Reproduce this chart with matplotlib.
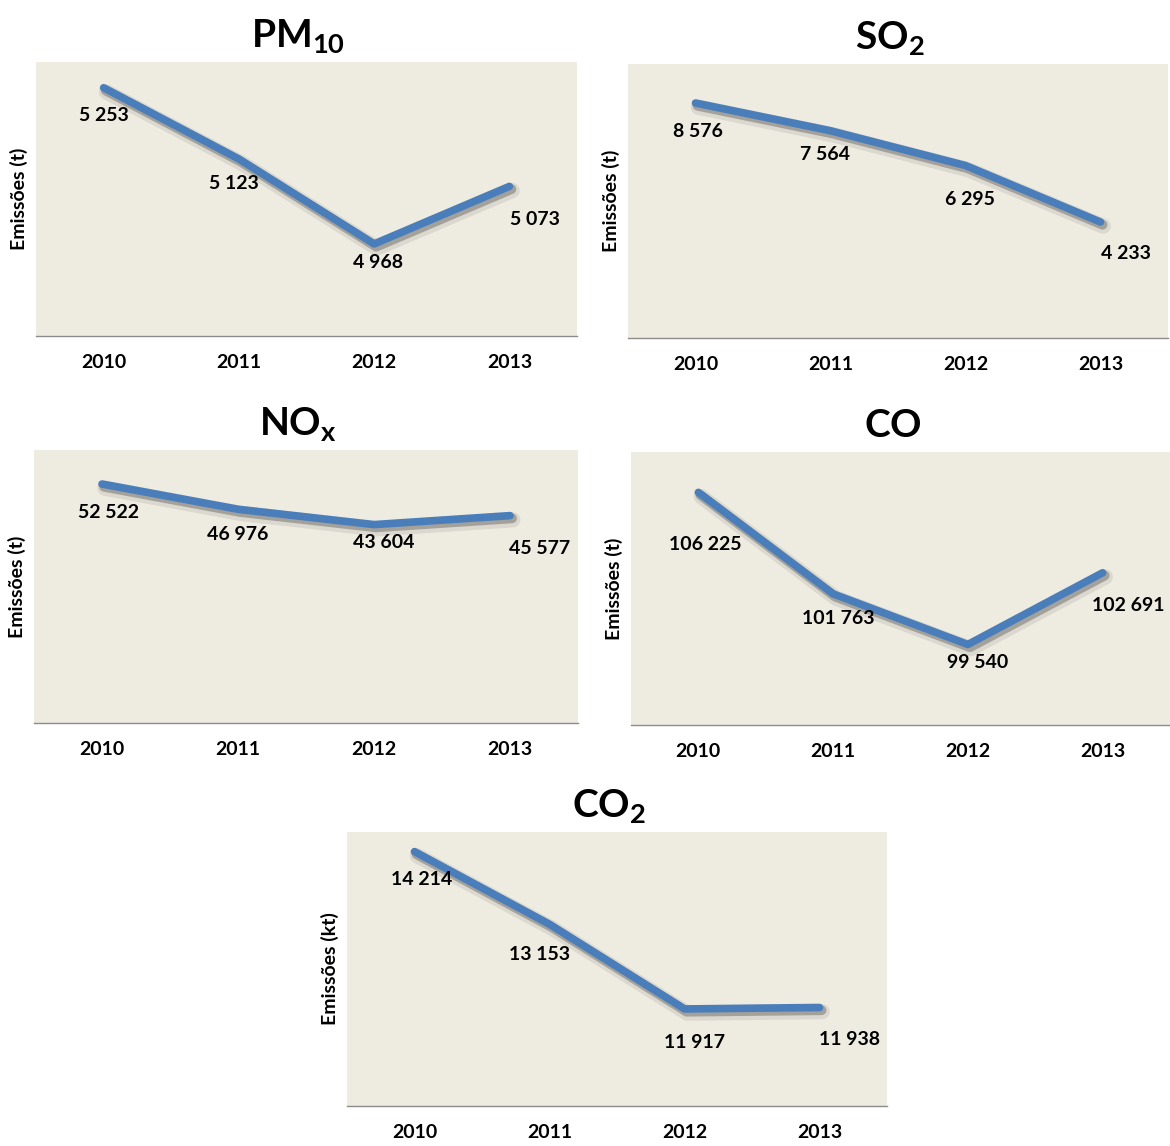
import matplotlib
matplotlib.use("Agg")
import matplotlib.pyplot as plt
import matplotlib.patheffects as pe

plt.rcParams['font.family'] = ['Lato', 'DejaVu Sans']
plt.rcParams['font.weight'] = 'bold'
plt.rcParams['mathtext.fontset'] = 'custom'
plt.rcParams['mathtext.bf'] = 'Lato:bold'
plt.rcParams['mathtext.rm'] = 'Lato:bold'

# --- data ---
years = ['2010', '2011', '2012', '2013']
pm10 = [5253, 5123, 4968, 5073]
so2 = [8576, 7564, 6295, 4233]
nox = [52522, 46976, 43604, 45577]
co = [106225, 101763, 99540, 102691]
co2 = [14214, 13153, 11917, 11938]

titles = [r'$\mathbf{PM_{10}}$', r'$\mathbf{SO_{2}}$', r'$\mathbf{NO_{x}}$',
          r'$\mathbf{CO}$', r'$\mathbf{CO_{2}}$']
ylabels = ['Emissões (t)'] * 4 + ['Emissões (kt)']
ylims = [(4800, 5300), (0, 10000), (0, 60000), (96000, 108000), (10500, 14500)]

W, H = 1170, 1146
# axes boxes in pixels: left, top, right, bottom
boxes = [(36, 62, 577, 336), (628, 64, 1168, 338), (34, 450, 578, 723),
         (631, 452, 1170, 725), (347, 832, 887, 1106)]

# label offsets from each point, in pixels (dx, dy down)
label_offsets = [
    [(0, 28), (-5, 25), (4, 19), (26, 33)],
    [(2, 28), (-5, 24), (4, 34), (25, 31)],
    [(6, 28), (0, 25), (10, 18), (30, 33)],
    [(7, 52), (5, 25), (10, 18), (26, 33)],
    [(7, 28), (-10, 30), (10, 34), (30, 32)],
]

BG = '#EEEBE1'
LINE = '#4A7EBB'

fig = plt.figure(figsize=(W / 100, H / 100), dpi=100)

series = [pm10, so2, nox, co, co2]
for vals, title, ylab, ylim, (l, t, r, b), offs in zip(series, titles, ylabels,
                                                      ylims, boxes, label_offsets):
    ax = fig.add_axes([l / W, 1 - b / H, (r - l) / W, (b - t) / H])
    ax.set_facecolor(BG)
    x = range(len(years))
    ax.plot(x, vals, color=LINE, lw=5.5, solid_capstyle='round',
            path_effects=[pe.SimpleLineShadow(offset=(2, -3), shadow_color='k',
                                              alpha=0.08, linewidth=11),
                          pe.SimpleLineShadow(offset=(1.5, -2), shadow_color='k',
                                              alpha=0.25, linewidth=7),
                          pe.Normal()])
    for i, v in enumerate(vals):
        dx, dy = offs[i]
        ax.annotate(f"{v:,}".replace(",", " "), (i, v), xytext=(dx, -dy),
                    textcoords='offset pixels', ha='center', va='center',
                    fontsize=14, fontweight='bold', color='black')
    ax.set_xlim(-0.5, 3.5)
    ax.set_ylim(*ylim)
    ax.set_xticks(list(x))
    ax.set_xticklabels(years, fontsize=14, fontweight='bold')
    ax.set_yticks([])
    ax.tick_params(axis='x', length=0, pad=13)
    for s in ['top', 'left', 'right']:
        ax.spines[s].set_visible(False)
    ax.spines['bottom'].set_color('#8C8C8C')
    ax.spines['bottom'].set_linewidth(1)
    ax.set_ylabel(ylab, fontsize=14, fontweight='bold', labelpad=6)
    ax.set_title(title, fontsize=28, pad=11, x=0.485)

fig.savefig('out.png', dpi=100, facecolor='white')
